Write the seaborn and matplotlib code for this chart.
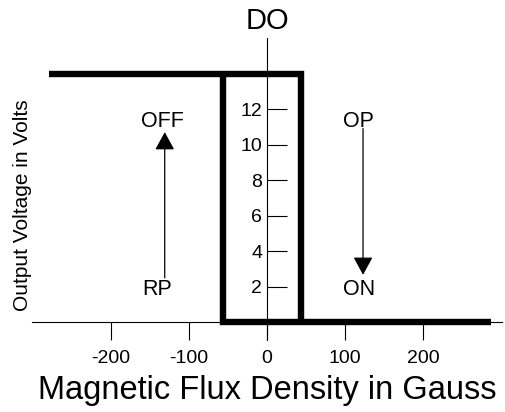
import numpy as np
import pandas as pd
import matplotlib
matplotlib.use("Agg")
import matplotlib.pyplot as plt
import seaborn as sns

sns.set_style("white")
plt.rcParams["font.family"] = ["Liberation Sans", "DejaVu Sans"]
plt.rcParams["axes.unicode_minus"] = False
plt.rcParams["text.color"] = "black"
plt.rcParams["axes.labelcolor"] = "black"

# hysteresis curve of the switch output (Gauss, Volts)
upper_x = [-279, 44, 44]
upper_y = [14, 14, 0]
lower_x = [287, -56, -56]
lower_y = [0, 0, 14]

x_ticks = [-200, -100, 0, 100, 200]
y_ticks = [2, 4, 6, 8, 10, 12]

# switching arrows: RP -> OFF going up, OP -> ON going down
arrow_x = [-131, 123]
arrow_from = [2.5, 10.9]
arrow_to = [10.7, 2.67]

upper = pd.DataFrame({"gauss": upper_x, "volts": upper_y})
lower = pd.DataFrame({"gauss": lower_x, "volts": lower_y})

fig = plt.figure(figsize=(5.05, 4.12), dpi=100)
ax = fig.add_axes([0.0634, 0.1748, 0.9307, 0.733])

for part in (upper, lower):
    sns.lineplot(data=part, x="gauss", y="volts", sort=False, estimator=None,
                 color="black", linewidth=4.6, ax=ax,
                 solid_joinstyle="miter", solid_capstyle="butt")

ax.set_xlim(-301, 301)
ax.set_ylim(-1, 16)
ax.spines["left"].set_position(("data", 0))
ax.spines["bottom"].set_position(("data", 0))
ax.spines["right"].set_visible(False)
ax.spines["top"].set_visible(False)
for s in ("left", "bottom"):
    ax.spines[s].set_color("black")
    ax.spines[s].set_linewidth(0.8)

ax.set_xticks(x_ticks)
ax.set_yticks(y_ticks)
ax.tick_params(axis="x", direction="out", length=13, width=0.8, pad=7,
               labelsize=14, colors="black")
ax.tick_params(axis="y", direction="in", length=14.5, width=0.8, pad=3.6,
               labelsize=14, colors="black")
ax.tick_params(axis="both", bottom=True, left=True)

ax.set_xlabel("Magnetic Flux Density in Gauss", fontsize=23.5)
ax.xaxis.set_label_coords(0, -4.35, transform=ax.transData)
ax.xaxis.label.set_va("baseline")
ax.set_ylabel("Output Voltage in Volts", fontsize=15)
ax.yaxis.set_label_coords(-306, 6.6, transform=ax.transData)
ax.yaxis.label.set_va("baseline")

ax.text(0, 16.53, "DO", ha="center", va="baseline", fontsize=21, clip_on=False)

for xa, a0, a1 in zip(arrow_x, arrow_from, arrow_to):
    ax.annotate("", xy=(xa, a1), xytext=(xa, a0),
                arrowprops=dict(arrowstyle="-|>,head_length=0.55,head_width=0.3",
                                mutation_scale=20, color="black", lw=0.9,
                                shrinkA=0, shrinkB=0))

ax.text(-162, 11.0, "OFF", ha="left", va="baseline", fontsize=15.5)
ax.text(-160, 1.55, "RP", ha="left", va="baseline", fontsize=15.5)
ax.text(97, 11.0, "OP", ha="left", va="baseline", fontsize=15.5)
ax.text(97, 1.55, "ON", ha="left", va="baseline", fontsize=15.5)

fig.savefig("out.png", dpi=100)
